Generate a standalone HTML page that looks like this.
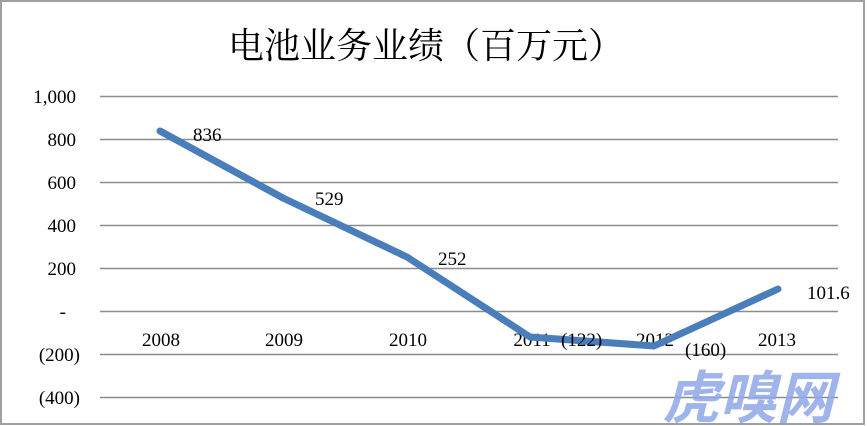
<!DOCTYPE html>
<html><head><meta charset="utf-8"><style>
html,body{margin:0;padding:0;background:#fff;}
svg{display:block;}
</style></head><body>
<svg width="867" height="426" viewBox="0 0 867 426" xmlns="http://www.w3.org/2000/svg">
<rect x="1" y="1" width="863" height="423" fill="#fff" stroke="#a0a0a0" stroke-width="2"/>
<text x="426" y="58" text-anchor="middle" font-family="'Liberation Serif','Noto Serif CJK SC',serif" font-size="36" fill="#000">电池业务业绩（百万元）</text>
<g stroke="#8c8c8c" stroke-width="1.5">
<line x1="100" y1="96.5" x2="838" y2="96.5"/>
<line x1="100" y1="139.5" x2="838" y2="139.5"/>
<line x1="100" y1="182.5" x2="838" y2="182.5"/>
<line x1="100" y1="225.5" x2="838" y2="225.5"/>
<line x1="100" y1="268.5" x2="838" y2="268.5"/>
<line x1="100" y1="311.5" x2="838" y2="311.5"/>
<line x1="100" y1="354.5" x2="838" y2="354.5"/>
<line x1="100" y1="397.5" x2="838" y2="397.5"/>
</g>
<g font-family="'Liberation Serif',serif" font-size="19" fill="#000" text-anchor="end">
<text x="76" y="103">1,000</text>
<text x="76" y="146">800</text>
<text x="76" y="189">600</text>
<text x="76" y="232">400</text>
<text x="76" y="275">200</text>
<text x="66" y="318">-</text>
<text x="80" y="361">(200)</text>
<text x="80" y="404">(400)</text>
</g>
<g font-family="'Liberation Serif',serif" font-size="19" fill="#000" text-anchor="middle">
<text x="161" y="346">2008</text>
<text x="284" y="346">2009</text>
<text x="408" y="346">2010</text>
<text x="532" y="346">2011</text>
<text x="655" y="346">2012</text>
<text x="777" y="346">2013</text>
</g>
<text x="748" y="418" font-family="'Liberation Serif','Noto Sans CJK SC',sans-serif" font-size="57" font-style="italic" font-weight="bold" fill="#8fa8e8" opacity="0.85" text-anchor="middle">虎嗅网</text>
<polyline points="160,131 283,198 407,257 530,337 654,346 778,289" fill="none" stroke="#4a7ebb" stroke-width="7" stroke-linecap="round" stroke-linejoin="round"/>
<g font-family="'Liberation Serif',serif" font-size="19" fill="#000">
<text x="193" y="141">836</text>
<text x="315" y="205">529</text>
<text x="438" y="265">252</text>
<text x="561" y="346">(122)</text>
<text x="685" y="356">(160)</text>
<text x="807" y="299">101.6</text>
</g>
</svg>
</body></html>
